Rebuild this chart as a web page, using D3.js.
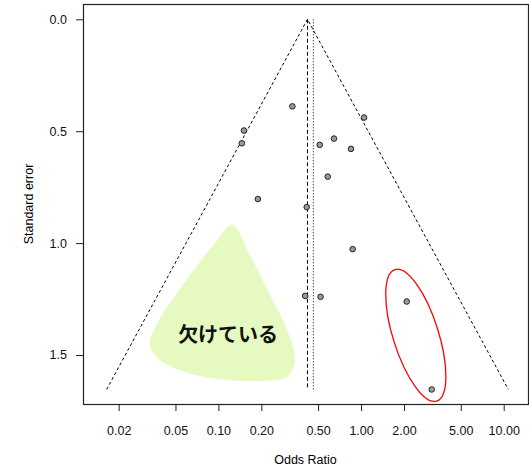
<!DOCTYPE html>
<html>
<head>
<meta charset="utf-8">
<script src="https://cdn.jsdelivr.net/npm/d3@7"></script>
<style>
  body { margin: 0; background: #fff; }
  svg { display: block; font-family: "Liberation Sans", Arial, sans-serif; }
</style>
</head>
<body>
<svg id="chart" width="529" height="469"></svg>
<script>
// study estimates (odds ratio, standard error)
const studyOR = [0.330, 0.151, 0.146, 1.05, 0.646, 0.513, 0.85, 0.584, 0.189, 0.416, 0.873, 0.406, 0.52, 2.09, 3.13];
const studySE = [0.389, 0.497, 0.554, 0.439, 0.533, 0.561, 0.579, 0.703, 0.803, 0.839, 1.027, 1.236, 1.240, 1.261, 1.654];

const fixedOR = 0.421;   // dashed line, funnel centre
const randomOR = 0.463;  // dotted line

const xTicks = [0.02, 0.05, 0.1, 0.2, 0.5, 1, 2, 5, 10];
const yTicks = [0, 0.5, 1, 1.5];

// "missing" area annotation, outline in (OR, SE)
const missingOR = [0.1245, 0.166, 0.230, 0.303, 0.344, 0.308, 0.196, 0.0743, 0.0390, 0.0331, 0.0377, 0.0583, 0.0946];
const missingSE = [0.919, 1.053, 1.232, 1.388, 1.513, 1.594, 1.616, 1.594, 1.522, 1.455, 1.353, 1.174, 1.0];
const missingLabel = "欠けている";
const labelOR = 0.117, labelSE = 1.402;

// red ellipse around the two outlying studies
const ellipseOR = 2.42, ellipseSE = 1.412;

(function() {
  const svg = d3.select("#chart");
  const mLeft = 83, mRight = 528, mTop = 4, mBottom = 404;

  const x = d3.scaleLog().domain([0.01124, 14.8]).range([mLeft, mRight]);
  const y = d3.scaleLinear().domain([-0.0684, 1.719]).range([mTop, mBottom]);

  const seMax = d3.max(studySE);
  const z = 1.96;

  // missing studies shape
  const shape = missingOR.map((d, i) => [x(d), y(missingSE[i])]);
  svg.append("path")
    .attr("d", d3.line().curve(d3.curveCatmullRomClosed.alpha(0.5))(shape))
    .attr("fill", "#e5f9c0");

  svg.append("text")
    .attr("x", x(labelOR))
    .attr("y", y(labelSE))
    .attr("text-anchor", "middle")
    .attr("dominant-baseline", "central")
    .style("font-family", "'Noto Sans CJK JP', sans-serif")
    .style("font-weight", "bold")
    .style("font-size", "20px")
    .attr("fill", "#111")
    .text(missingLabel);

  // funnel
  const lo = fixedOR * Math.exp(-z * seMax);
  const hi = fixedOR * Math.exp(z * seMax);
  svg.append("path")
    .attr("d", d3.line()([[x(lo), y(seMax)], [x(fixedOR), y(0)], [x(hi), y(seMax)]]))
    .attr("fill", "none")
    .attr("stroke", "#000")
    .attr("stroke-width", 1)
    .attr("stroke-dasharray", "3,2.5");

  svg.append("line")
    .attr("x1", x(fixedOR)).attr("x2", x(fixedOR))
    .attr("y1", y(0)).attr("y2", y(seMax))
    .attr("stroke", "#000")
    .attr("stroke-dasharray", "4,2.5");

  svg.append("line")
    .attr("x1", x(randomOR)).attr("x2", x(randomOR))
    .attr("y1", y(0)).attr("y2", y(seMax))
    .attr("stroke", "#000")
    .attr("stroke-dasharray", "1,2");

  // ellipse
  svg.append("ellipse")
    .attr("transform", `translate(${x(ellipseOR)},${y(ellipseSE)}) rotate(-17.6)`)
    .attr("rx", 22.7)
    .attr("ry", 69)
    .attr("fill", "none")
    .attr("stroke", "#ff0000")
    .attr("stroke-width", 1.3);

  // points
  svg.selectAll(".study")
    .data(studyOR.map((d, i) => ({ or: d, se: studySE[i] })))
    .enter()
    .append("circle")
    .attr("class", "study")
    .attr("cx", d => x(d.or))
    .attr("cy", d => y(d.se))
    .attr("r", 2.8)
    .attr("fill", "#9a9a9a")
    .attr("stroke", "#222")
    .attr("stroke-width", 1);

  // box
  svg.append("rect")
    .attr("x", mLeft + 0.5).attr("y", mTop + 0.5)
    .attr("width", mRight - mLeft).attr("height", mBottom - mTop)
    .attr("fill", "none")
    .attr("stroke", "#222")
    .attr("stroke-width", 1.2);

  // axes
  const xAxis = svg.append("g")
    .attr("transform", `translate(0,${mBottom})`)
    .call(d3.axisBottom(x).tickValues(xTicks).tickFormat(d => d.toFixed(2)).tickSize(7).tickPadding(15));
  xAxis.select(".domain").remove();

  const yAxis = svg.append("g")
    .attr("transform", `translate(${mLeft},0)`)
    .call(d3.axisLeft(y).tickValues(yTicks).tickFormat(d => d.toFixed(1)).tickSize(7).tickPadding(9));
  yAxis.select(".domain").remove();

  svg.selectAll(".tick text")
    .style("font-family", "'Liberation Sans', Arial, sans-serif")
    .style("font-size", "12.5px")
    .attr("fill", "#111");
  svg.selectAll(".tick line").attr("stroke", "#222");

  svg.append("text")
    .attr("x", (mLeft + mRight) / 2)
    .attr("y", 464)
    .attr("text-anchor", "middle")
    .style("font-size", "12.5px")
    .text("Odds Ratio");

  svg.append("text")
    .attr("transform", `translate(33,${(mTop + mBottom) / 2}) rotate(-90)`)
    .attr("text-anchor", "middle")
    .style("font-size", "12.5px")
    .text("Standard error");
})();
</script>
</body>
</html>
